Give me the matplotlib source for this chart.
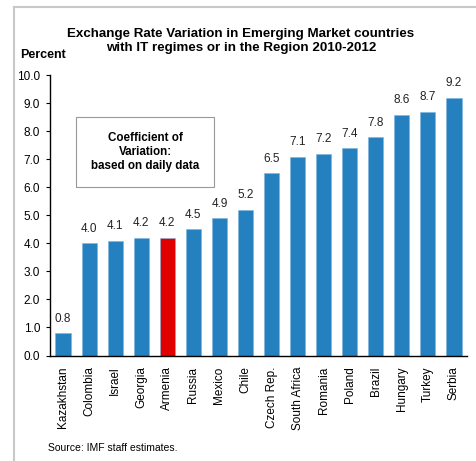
import matplotlib
matplotlib.use("Agg")
import matplotlib.pyplot as plt
from matplotlib.lines import Line2D


plt.rcParams.update(
    {
        "font.family": ["Liberation Sans", "DejaVu Sans"],
        "figure.facecolor": "white",
        "axes.facecolor": "white",
    }
)

countries = [
    "Kazakhstan", "Colombia", "Israel", "Georgia", "Armenia", "Russia",
    "Mexico", "Chile", "Czech Rep.", "South Africa", "Romania", "Poland",
    "Brazil", "Hungary", "Turkey", "Serbia",
]
values = [0.8, 4.0, 4.1, 4.2, 4.2, 4.5, 4.9, 5.2, 6.5, 7.1, 7.2, 7.4, 7.8, 8.6, 8.7, 9.2]
highlight = "Armenia"
yticks = [0.0, 1.0, 2.0, 3.0, 4.0, 5.0, 6.0, 7.0, 8.0, 9.0, 10.0]

BLUE = "#2580C0"
RED = "#E00000"

W, H = 476, 461


def main():
    fig = plt.figure(figsize=(W / 100, H / 100), dpi=100)
    ax = fig.add_axes([50 / W, 1 - 355.5 / H, (467 - 50) / W, (355.5 - 75.3) / H])

    colors = [RED if c == highlight else BLUE for c in countries]
    x = range(len(countries))
    ax.bar(x, values, width=0.58, color=colors, edgecolor="#7FB4DE", linewidth=0.4, zorder=2)
    for xi, v in zip(x, values):
        ax.text(xi, v + 0.3, f"{v:.1f}", ha="center", va="bottom", fontsize=8.5, color="#222222")

    ax.set_xlim(-0.5, len(countries) - 0.5)
    ax.set_ylim(0, 10)
    ax.set_yticks(yticks)
    ax.set_yticklabels([f"{t:.1f}" for t in yticks], fontsize=8.5)
    ax.set_xticks(list(x))
    ax.set_xticklabels(countries, rotation=90, fontsize=8.5)
    ax.tick_params(axis="x", length=0, pad=8)
    ax.tick_params(axis="y", direction="out", length=3, width=0.8, pad=4)
    for side in ("top", "right"):
        ax.spines[side].set_visible(False)
    for side in ("left", "bottom"):
        ax.spines[side].set_linewidth(1.0)

    # note box
    ax.text(
        145 / W, 1 - 152 / H,
        "Coefficient of\nVariation:\nbased on daily data",
        transform=fig.transFigure, ha="center", va="center",
        fontsize=8.4, fontweight="bold", linespacing=1.25,
        bbox={"boxstyle": "square,pad=1.25", "fc": "white", "ec": "#999999", "lw": 0.8},
    )

    fig.text(241 / W, 1 - 41 / H,
             "Exchange Rate Variation in Emerging Market countries\nwith IT regimes or in the Region 2010-2012",
             ha="center", va="center", fontsize=9.6, fontweight="bold", linespacing=1.2)
    fig.text(20 / W, 1 - 55 / H, "Percent", ha="left", va="center", fontsize=9, fontweight="bold")
    fig.text(48 / W, 1 - 448 / H, "Source: IMF staff estimates.", ha="left", va="center", fontsize=7.5)

    # frame lines on left and top
    fig.add_artist(Line2D([14 / W, 14 / W], [0, 1 - 7 / H], transform=fig.transFigure, color="#C8C8C8", lw=1.5))
    fig.add_artist(Line2D([14 / W, 1], [1 - 7 / H, 1 - 7 / H], transform=fig.transFigure, color="#C8C8C8", lw=1.5))

    fig.savefig("out.png", dpi=100)


if __name__ == "__main__":
    main()
